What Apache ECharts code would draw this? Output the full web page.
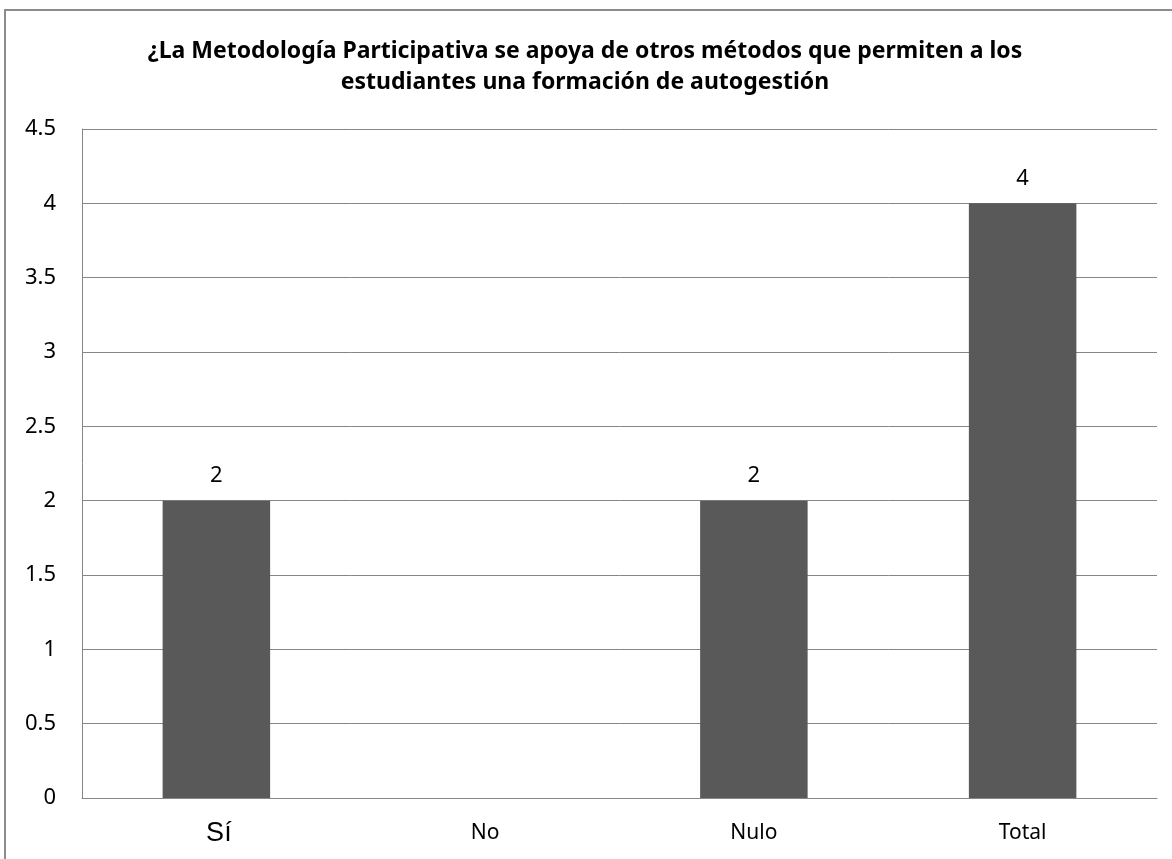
<!DOCTYPE html>
<html>
<head>
<meta charset="utf-8">
<script src="https://cdn.jsdelivr.net/npm/echarts@6/dist/echarts.min.js"></script>
<style>
html,body{margin:0;padding:0;background:#fff;}
#chart{width:1172px;height:859px;}
</style>
</head>
<body>
<div id="chart"></div>
<script>
const titleText = '¿La Metodología Participativa se apoya de otros métodos que permiten a los\nestudiantes una formación de autogestión';
const categories = ['Sí', 'No', 'Nulo', 'Total'];
const values = [2, null, 2, 4];
const yTicks = { min: 0, max: 4.5, interval: 0.5 };

const chart = echarts.init(document.getElementById('chart'));
chart.setOption({
  backgroundColor: '#ffffff',
  animation: false,
  title: {
    text: titleText,
    left: 580,
    textAlign: 'center',
    top: 31,
    textStyle: {
      fontFamily: 'Noto Sans',
      fontWeight: 'bold',
      fontSize: 23,
      lineHeight: 31,
      color: '#000'
    }
  },
  graphic: [{
    type: 'rect',
    shape: { x: 5, y: 10, width: 1300, height: 1000 },
    style: { fill: 'none', stroke: '#8c8c8c', lineWidth: 2 },
    silent: true
  }],
  grid: { left: 82, right: 15, top: 129, bottom: 61, containLabel: false },
  xAxis: {
    type: 'category',
    data: categories,
    axisLine: { lineStyle: { color: '#868686', width: 1 } },
    axisTick: { show: false },
    axisLabel: {
      margin: 22,
      color: '#000',
      fontFamily: 'Noto Sans',
      fontSize: 21,
      formatter: function (v) {
        return v === 'Sí' ? '{big|' + v + '}' : '{n|' + v + '}';
      },
      rich: {
        big: { fontFamily: 'Liberation Sans', fontSize: 27, lineHeight: 27, color: '#000', padding: [0, 0, 0, 5] },
        n: { fontFamily: 'Noto Sans', fontSize: 21, lineHeight: 27, color: '#000' }
      }
    }
  },
  yAxis: {
    type: 'value',
    min: yTicks.min,
    max: yTicks.max,
    interval: yTicks.interval,
    axisLine: { show: true, lineStyle: { color: '#868686', width: 1 } },
    axisTick: { show: false },
    splitLine: { lineStyle: { color: '#868686', width: 1 } },
    axisLabel: {
      margin: 26,
      color: '#000',
      fontFamily: 'Noto Sans',
      fontSize: 22
    }
  },
  series: [{
    type: 'bar',
    data: values,
    barWidth: '40%',
    itemStyle: { color: '#595959' },
    label: {
      show: true,
      position: 'top',
      distance: 14,
      color: '#000',
      fontFamily: 'Noto Sans',
      fontSize: 22
    }
  }]
});
</script>
</body>
</html>
